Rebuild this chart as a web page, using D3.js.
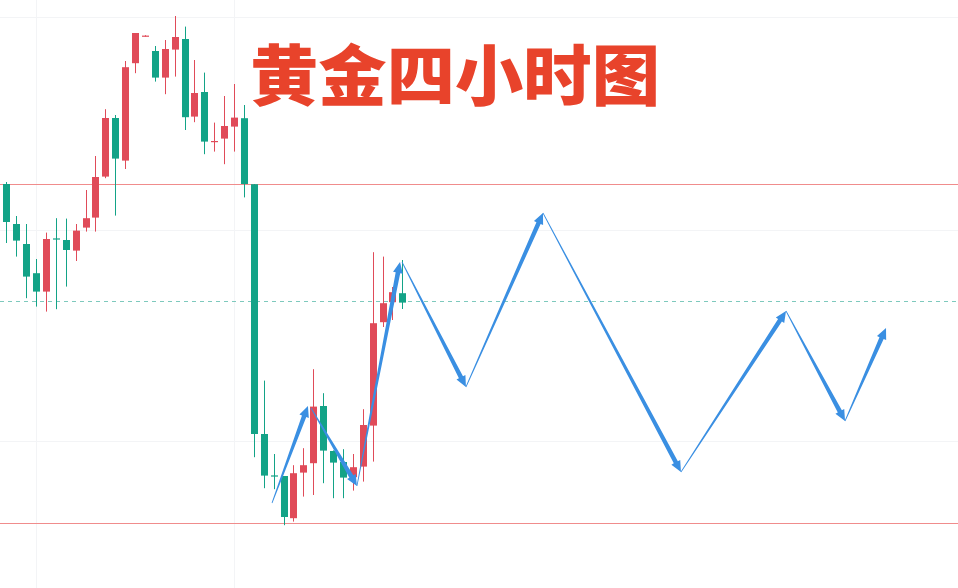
<!DOCTYPE html>
<html><head><meta charset="utf-8">
<script src="https://cdn.jsdelivr.net/npm/d3@7/dist/d3.min.js"></script>
<style>html,body{margin:0;padding:0;background:#fff;overflow:hidden}</style>
</head><body>
<svg id="c" width="958" height="588"></svg>
<script>
// ---- data (price units) ----
const title = "黄金四小时图";
const opens  = [2408,2388,2378,2363.4,2354.2,2380.8,2380,2374.7,2386.2,2391.2,2411.7,2441,2419.7,2468.4,2481.9,2474.5,2461.2,2475.2,2480.5,2441.7,2454,2429.3,2430.7,2436.7,2440.9,2407.9,2283,2262.3,2262,2240.9,2263.7,2268.4,2297,2274.5,2269,2261.4,2266.7,2287.2,2338.9,2348.9,2353.4];
const highs  = [2409,2392,2388,2370.5,2383.7,2390.9,2390.7,2388,2405,2422,2445.4,2442.5,2469.5,2483.5,2482.4,2477,2480,2492,2486.7,2470,2463.7,2438.7,2452,2458,2447.5,2408,2309.7,2273,2262,2267.4,2275.9,2315.4,2303.4,2274.8,2275.4,2273,2295.4,2373.9,2371.7,2356.5,2370];
const lows   = [2378.5,2371.7,2350.9,2346.7,2344.2,2345.4,2356.7,2369.5,2384.2,2384.2,2410.9,2392.2,2415.5,2463.4,2481.7,2459.2,2452.9,2461.7,2435,2438.9,2422.9,2424.2,2417.9,2424.2,2401.3,2271.4,2255.9,2255.4,2237.4,2239.2,2251.7,2252.5,2258.4,2250.9,2250.9,2254.7,2259.2,2269.2,2336.5,2340,2345.5];
const closes = [2389,2379.7,2361.7,2354.2,2380.5,2380.3,2375,2384.7,2390.9,2411.5,2441,2420.7,2466.4,2483.5,2482.2,2461.2,2475.5,2481.5,2441.4,2453.5,2429.2,2429.5,2437,2441.2,2408,2283,2262.2,2262,2241.5,2263.4,2267.4,2296.7,2274.7,2268.7,2261.2,2266.4,2287.5,2338.4,2348.4,2353.9,2348.7];
// projected path (bar index, price)
const pathIdx   = [26.84,30.47, 30.78,35.42, 35.42,39.77, 39.97,46.43, 46.43,54.21, 54.21,68.15, 68.15,78.76, 78.76,84.72, 84.72,88.86];
const pathPrice = [2248.5,2297, 2296,2257, 2257,2369, 2369,2306.5, 2306.5,2393.5, 2393.5,2264, 2264,2344.5, 2344.5,2289.5, 2289.5,2336];
const levels = [2408, 2238.5];
const lastPrice = 2349.5;
const gridPrices = [2491.5, 2385, 2279.5];
const gridIdx = [3, 23];

// ---- scales ----
const W = 958, H = 588;
const x = d3.scaleLinear().domain([0, 40]).range([6.3, 402.3]);
const y = d3.scaleLinear().domain([2500, 2206]).range([0, 588]);
const svg = d3.select("#c");
const UP = "#e04b59", DOWN = "#13a387";

// grid
svg.append("g").selectAll("line").data(gridPrices).join("line")
  .attr("x1",0).attr("x2",W).attr("y1",d=>Math.round(y(d))+0.5).attr("y2",d=>Math.round(y(d))+0.5)
  .attr("stroke","#f3f4f6").attr("stroke-width",1);
svg.append("g").selectAll("line").data(gridIdx).join("line")
  .attr("y1",0).attr("y2",H).attr("x1",d=>Math.round(x(d))+0.5).attr("x2",d=>Math.round(x(d))+0.5)
  .attr("stroke","#f3f4f6").attr("stroke-width",1);

// levels
svg.append("g").selectAll("line").data(levels).join("line")
  .attr("x1",0).attr("x2",W).attr("y1",d=>Math.round(y(d))+0.5).attr("y2",d=>Math.round(y(d))+0.5)
  .attr("stroke","#f08c8c").attr("stroke-width",1);
svg.append("line").attr("x1",0).attr("x2",W)
  .attr("y1",Math.round(y(lastPrice))+0.5).attr("y2",Math.round(y(lastPrice))+0.5)
  .attr("stroke","#7ec9bd").attr("stroke-width",1).attr("stroke-dasharray","4,4");

// candles
const bars = d3.range(opens.length).map(i=>({i,o:opens[i],h:highs[i],l:lows[i],c:closes[i]}));
const g = svg.append("g");
const bw = 7;
g.selectAll("line.w").data(bars).join("line").attr("class","w")
  .attr("x1",d=>Math.round(x(d.i))+0.5).attr("x2",d=>Math.round(x(d.i))+0.5)
  .attr("y1",d=>y(d.h)).attr("y2",d=>y(d.l))
  .attr("stroke",d=>d.c>=d.o?UP:DOWN).attr("stroke-width",1);
g.selectAll("rect").data(bars).join("rect")
  .attr("x",d=>Math.round(x(d.i))+0.5-bw/2)
  .attr("width",bw)
  .attr("y",d=>y(Math.max(d.o,d.c)))
  .attr("height",d=>Math.max(1.2,Math.abs(y(d.o)-y(d.c))))
  .attr("fill",d=>d.c>=d.o?UP:DOWN);

// tapered arrows
const ARROW = "#3a8fe2";
const ag = svg.append("g");
for (let k=0;k<pathIdx.length;k+=2){
  const x0=x(pathIdx[k]), y0=y(pathPrice[k]), x1=x(pathIdx[k+1]), y1=y(pathPrice[k+1]);
  const dx=x1-x0, dy=y1-y0, L=Math.hypot(dx,dy), ux=dx/L, uy=dy/L, nx=-uy, ny=ux;
  const hl=11, hw=5, w0=0.4, w1=2.3;
  const bx=x1-ux*hl, by=y1-uy*hl;
  const pts=[
    [x0+nx*w0,y0+ny*w0],[bx+nx*w1,by+ny*w1],[bx+nx*hw,by+ny*hw],[x1,y1],
    [bx-nx*hw,by-ny*hw],[bx-nx*w1,by-ny*w1],[x0-nx*w0,y0-ny*w0]];
  ag.append("path").attr("d","M"+pts.map(p=>p.join(",")).join("L")+"Z").attr("fill",ARROW);
}

// title
svg.append("text").attr("x",250).attr("y",100)
  .attr("font-family","'Noto Sans CJK SC','Noto Sans CJK JP',sans-serif")
  .attr("font-weight",900).attr("font-size",66)
  .attr("textLength",410).attr("lengthAdjust","spacingAndGlyphs")
  .attr("fill","#e8432b").text(title);
</script>
</body></html>
